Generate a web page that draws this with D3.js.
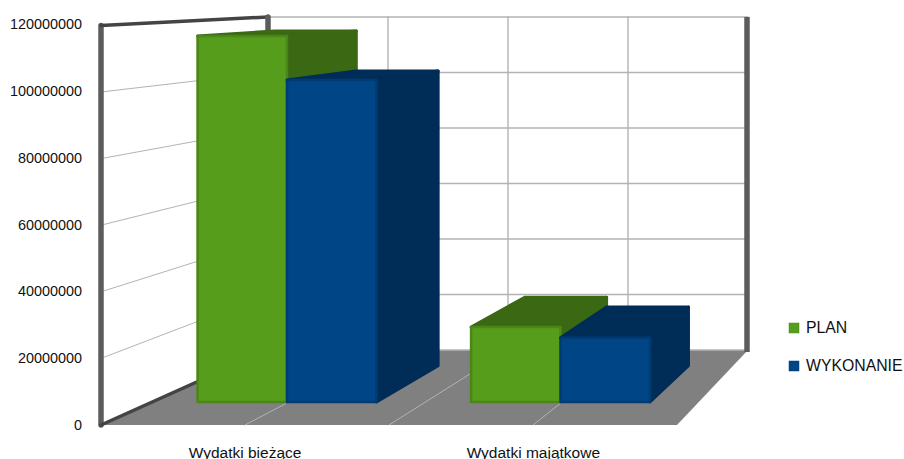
<!DOCTYPE html>
<html>
<head>
<meta charset="utf-8">
<script src="https://cdn.jsdelivr.net/npm/d3@7"></script>
<style>
html, body { margin: 0; padding: 0; background: #fff; overflow: hidden; }
text { font-family: "Liberation Sans", Arial, sans-serif; fill: #111; }
</style>
</head>
<body>
<div id="chart"></div>
<script>
var categories = ['Wydatki bieżące', 'Wydatki majątkowe'];
var seriesNames = ['PLAN', 'WYKONANIE'];
var plan = [115800000, 23700000];
var wykonanie = [101900000, 20300000];
var yTicks = [0, 20000000, 40000000, 60000000, 80000000, 100000000, 120000000];
var colors = ['#579d1c', '#004586'];
var darkColors = ['#3a6813', '#002c58'];
var edgeColors = ['#4a8618', '#003c74'];

var svg = d3.select('#chart').append('svg').attr('width', 904).attr('height', 459);

// back wall plane, everything gets pushed forward from here by a scale factor
var y = d3.scaleLinear().domain([0, 120000000]).range([350, 17]);
var xGrid = d3.scaleLinear().domain([0, 4]).range([268, 748]);
var x0 = d3.scaleBand().domain(categories).range([267, 746]).paddingInner(0.346).paddingOuter(0.17);
var x1 = d3.scaleBand().domain(seriesNames).range([0, x0.bandwidth()]);

var vanish = { x: 1103, y: -25 };
var FRONT = 1.2, BACK = 1, BAR_FRONT = 1.1387, BAR_BACK = 1.042;

function project(px, py, s) {
    return [vanish.x + s * (px - vanish.x), vanish.y + s * (py - vanish.y)];
}
var yFront = d3.scaleLinear().domain(y.domain()).range([425, 24]);

function poly(g, pts, fill, stroke, sw) {
    return g.append('path')
        .attr('d', 'M' + pts.map(function (p) { return p.join(','); }).join('L') + 'Z')
        .attr('fill', fill)
        .attr('stroke', stroke || 'none')
        .attr('stroke-width', sw || 0)
        .attr('stroke-linejoin', 'round');
}
function line(g, a, b, color, w) {
    return g.append('line')
        .attr('x1', a[0]).attr('y1', a[1]).attr('x2', b[0]).attr('y2', b[1])
        .attr('stroke', color).attr('stroke-width', w).attr('stroke-linecap', 'round');
}

var walls = svg.append('g');
var xL = xGrid(0), xR = xGrid(4), y0 = y(0), yTop = y(120000000);

// floor
poly(walls, [project(xL, y0, FRONT), project(xL, y0, BACK), project(xR, y0, BACK), project(xR, y0, FRONT)], '#808080');

// back wall and side wall grid
yTicks.forEach(function (t) {
    line(walls, [xL, y(t)], [xR, y(t)], '#b3b3b3', 1.4);
    if (t > 0 && t < 120000000) {
        line(walls, project(xL, y(t), FRONT), project(xL, y(t), BACK), '#b3b3b3', 1);
    }
});
d3.range(1, 4).forEach(function (i) {
    line(walls, [xGrid(i), yTop], [xGrid(i), y0], '#b3b3b3', 1.4);
    line(walls, project(xGrid(i), y0, BACK), project(xGrid(i), y0, FRONT), '#b3b3b3', 1);
});

// thick frame
line(walls, project(xL, y0, FRONT), project(xL, yTop, FRONT), '#5c5c5c', 5.5);
line(walls, project(xL, yTop, FRONT), project(xL, yTop, BACK), '#444', 3.5);
line(walls, project(xL, y0, FRONT), project(xL, y0, BACK), '#444', 3.5);
line(walls, [xL, yTop], [xL, y0], '#5c5c5c', 5.5);
walls.append('line')
    .attr('x1', xR - 1).attr('y1', yTop).attr('x2', xR - 1).attr('y2', y0 + 2)
    .attr('stroke', '#5c5c5c').attr('stroke-width', 5.5);

// bars
var barData = [];
categories.forEach(function (c, i) {
    barData.push({ cat: c, s: 0, name: seriesNames[0], value: plan[i] });
    barData.push({ cat: c, s: 1, name: seriesNames[1], value: wykonanie[i] });
});

svg.append('g').selectAll('g').data(barData).join('g').each(function (d) {
    var g = d3.select(this);
    var l = x0(d.cat) + x1(d.name);
    var r = l + x1.bandwidth();
    var a = project(l, y0, BAR_FRONT), b = project(r, y0, BAR_FRONT);
    var c = project(r, y(d.value), BAR_FRONT), e = project(l, y(d.value), BAR_FRONT);
    var bb = project(r, y0, BAR_BACK), bc = project(r, y(d.value), BAR_BACK), be = project(l, y(d.value), BAR_BACK);
    poly(g, [b, bb, bc, c], darkColors[d.s], darkColors[d.s], 3);
    poly(g, [e, c, bc, be], darkColors[d.s], darkColors[d.s], 3);
    poly(g, [a, b, c, e], colors[d.s], edgeColors[d.s], 2.5);
});

// value axis, real d3 axis on the front plane
var axis = d3.axisLeft(yFront).tickValues(yTicks).tickSize(0).tickPadding(18).tickFormat(d3.format('d'));
var axisG = svg.append('g').attr('transform', 'translate(100,0)').call(axis);
axisG.select('.domain').remove();
axisG.selectAll('text').attr('font-size', 14.4).attr('font-family', '"Liberation Sans", Arial, sans-serif').attr('fill', '#111');

// category labels, the reference clips their descenders at the page edge too
svg.append('g').selectAll('text').data(categories).join('text')
    .attr('x', function (d) {
        return project(x0(d) + x0.bandwidth() / 2, y0, FRONT)[0] + 2;
    })
    .attr('y', 458)
    .attr('text-anchor', 'middle')
    .attr('font-size', 15.5)
    .text(function (d) { return d; });

// legend
var legend = svg.append('g').selectAll('g').data(seriesNames).join('g')
    .attr('transform', function (d, i) { return 'translate(789,' + (323 + i * 38) + ')'; });
legend.append('rect').attr('width', 10).attr('height', 10)
    .attr('fill', function (d, i) { return colors[i]; })
    .attr('stroke', function (d, i) { return edgeColors[i]; })
    .attr('stroke-width', 0.5);
legend.append('text').attr('x', 17).attr('y', 10).attr('font-size', 15.8).text(function (d) { return d; });
</script>
</body>
</html>
